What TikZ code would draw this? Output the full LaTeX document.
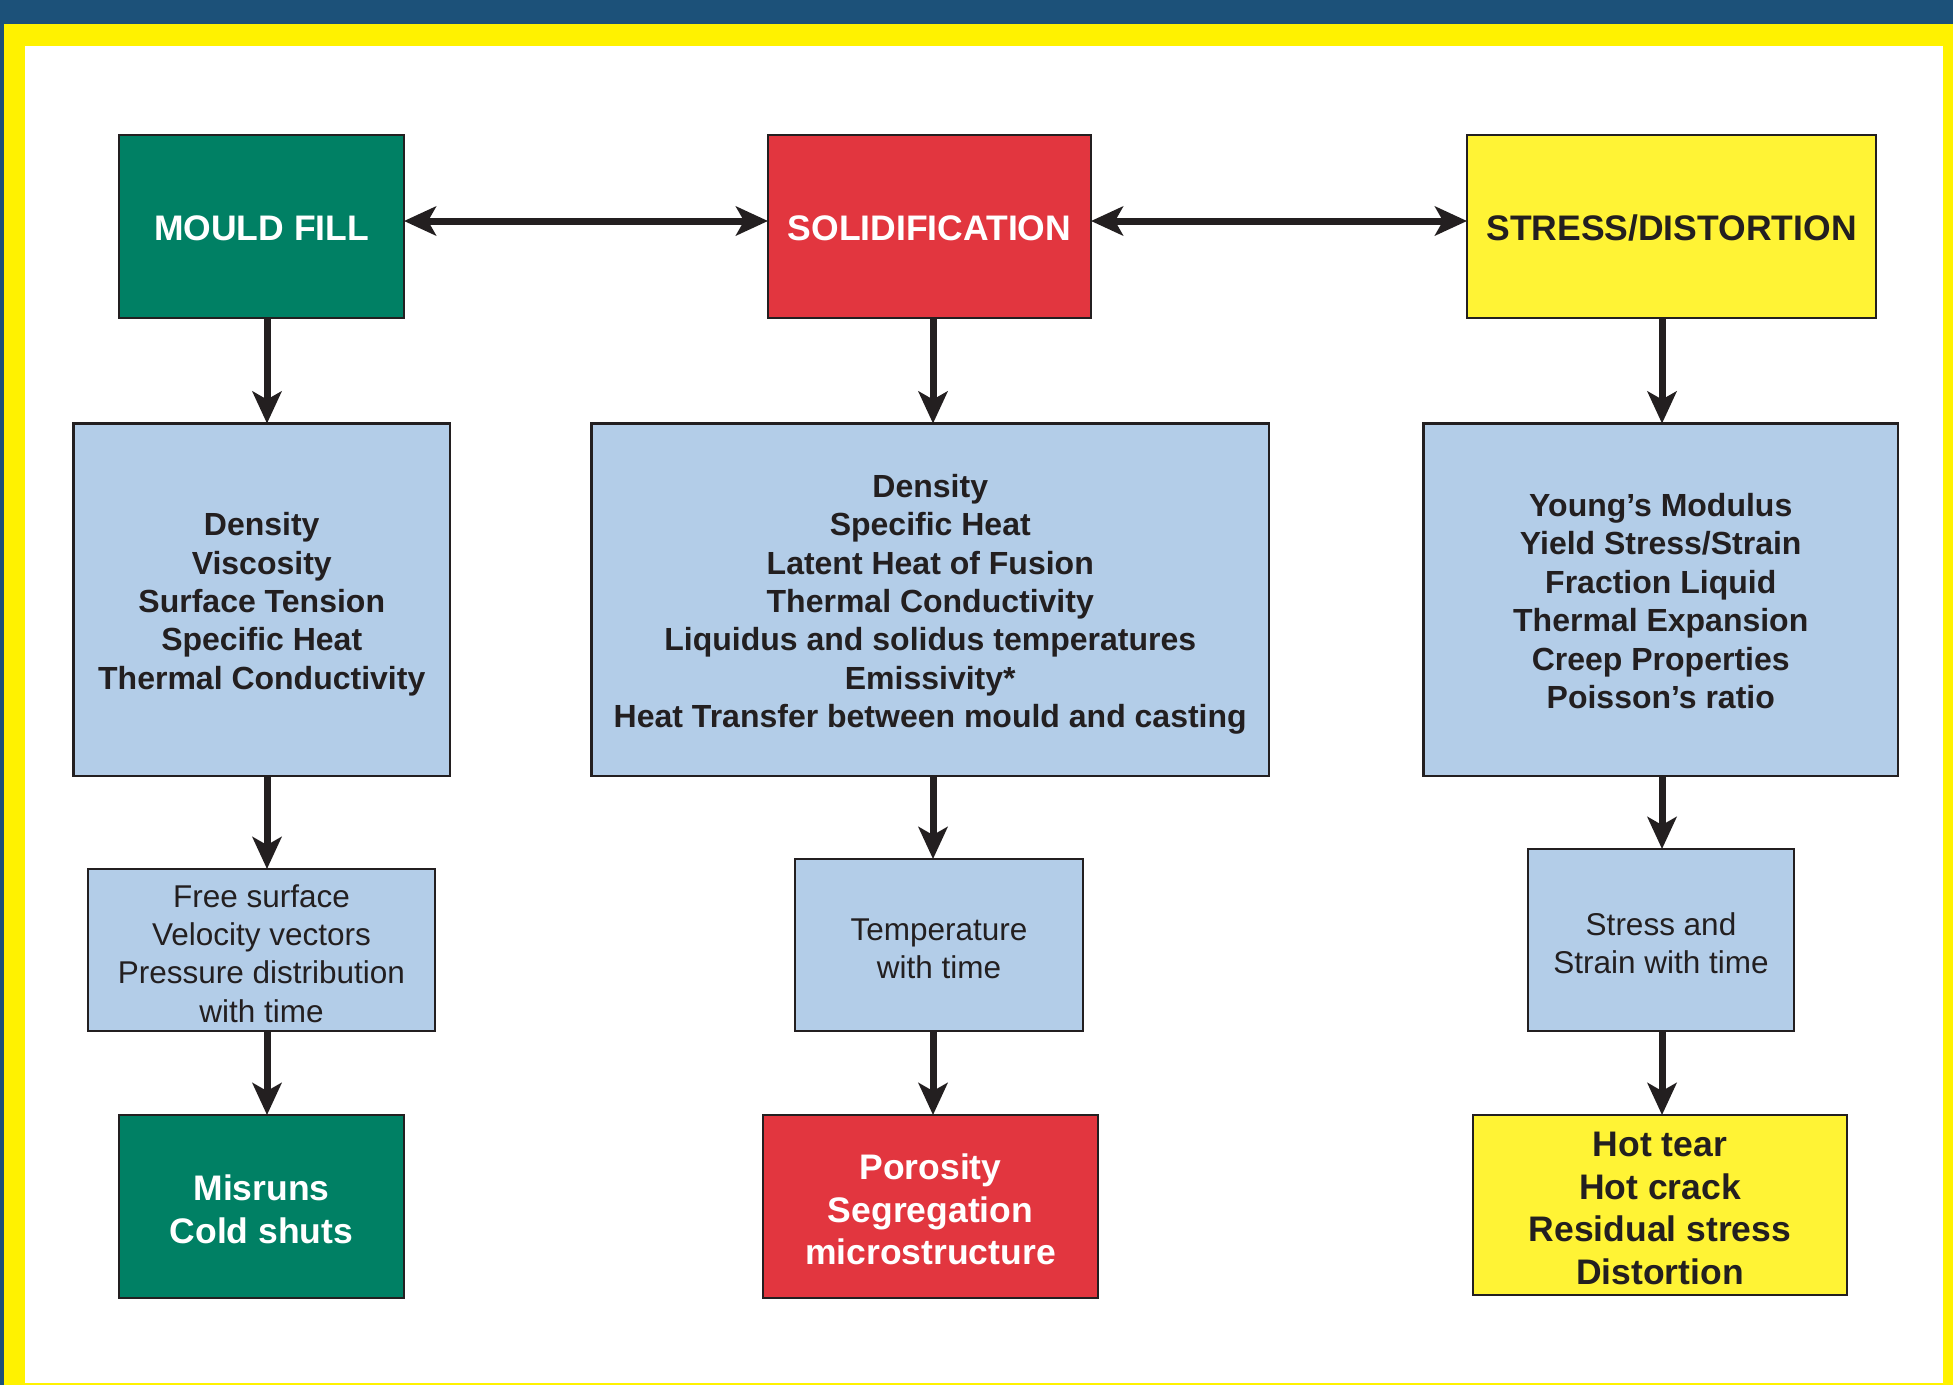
\documentclass[tikz,border=0pt]{standalone}
\usepackage{fontspec}
\setmainfont{Liberation Sans}
\usetikzlibrary{arrows.meta}
\definecolor{band}{HTML}{1C5179}
\definecolor{frameyellow}{HTML}{FFF200}
\definecolor{boxgreen}{HTML}{008064}
\definecolor{boxred}{HTML}{E2363F}
\definecolor{boxyellow}{HTML}{FFF335}
\definecolor{boxblue}{HTML}{B3CDE8}
\definecolor{txt}{HTML}{231F20}
\newcommand{\boxtext}[2][-5pt]{\raisebox{#1}[\height][\depth]{\begin{tabular}{@{}c@{}}#2\end{tabular}}}
\tikzset{
  box/.style={draw=txt, line width=2.5pt, inner sep=0pt, outer sep=0pt, align=center, text=txt},
  headfont/.style={font=\fontsize{35.5}{42.7}\selectfont\bfseries},
  propfont/.style={font=\fontsize{32}{38.4}\selectfont\bfseries},
  outfont/.style={font=\fontsize{31.5}{38.3}\selectfont},
  arr/.style={line width=7pt, draw=txt, -{Stealth[length=32pt,width=29pt,inset=8pt]}},
  darr/.style={line width=7pt, draw=txt, {Stealth[length=32pt,width=29pt,inset=8pt]}-{Stealth[length=32pt,width=29pt,inset=8pt]}}
}
\begin{document}
\begin{tikzpicture}[x=1pt,y=-1pt]
\useasboundingbox (0,0) rectangle (1953,1385);
\fill[band] (0,0) rectangle (1953,1385);
\fill[frameyellow] (4,24) rectangle (1953,1385);
\fill[white] (25,45.7) rectangle (1943,1383);

\coordinate (cL) at (267,0);
\coordinate (cM) at (933,0);
\coordinate (cR) at (1662,0);

% row 1
\node[box, headfont, fill=boxgreen, text=white, minimum width=285pt, minimum height=183pt] (mf) at (261.5,226.5) {\boxtext{MOULD FILL}};
\node[box, headfont, fill=boxred, text=white, minimum width=323pt, minimum height=183pt] (so) at (929.5,226.5) {\boxtext{SOLIDIFICATION}};
\node[box, headfont, fill=boxyellow, minimum width=409pt, minimum height=183pt] (sd) at (1671.5,226.5) {\boxtext{STRESS/DISTORTION}};

% row 2
\node[box, propfont, fill=boxblue, minimum width=376.5pt, minimum height=352.5pt] (p1) at (261.75,599.75)
  {\boxtext{Density\\Viscosity\\Surface Tension\\Specific Heat\\Thermal Conductivity}};
\node[box, propfont, fill=boxblue, minimum width=677.5pt, minimum height=352.5pt] (p2) at (930.25,599.75)
  {\boxtext{Density\\Specific Heat\\Latent Heat of Fusion\\Thermal Conductivity\\Liquidus and solidus temperatures\\Emissivity*\\Heat Transfer between mould and casting}};
\node[box, propfont, fill=boxblue, minimum width=474.5pt, minimum height=352.5pt] (p3) at (1660.75,599.75)
  {\boxtext{Young’s Modulus\\Yield Stress/Strain\\Fraction Liquid\\Thermal Expansion\\Creep Properties\\Poisson’s ratio}};

% row 3
\node[box, outfont, fill=boxblue, minimum width=347pt, minimum height=162pt] (o1) at (261.5,950)
  {\boxtext[-7pt]{Free surface\\Velocity vectors\\Pressure distribution\\with time}};
\node[box, outfont, fill=boxblue, minimum width=288pt, minimum height=172pt] (o2) at (939,945)
  {\boxtext[-7pt]{Temperature\\with time}};
\node[box, outfont, fill=boxblue, minimum width=266pt, minimum height=182pt] (o3) at (1661,940)
  {\boxtext[-7pt]{Stress and\\Strain with time}};

% row 4
\node[box, headfont, fill=boxgreen, text=white, minimum width=285pt, minimum height=183pt] (d1) at (261.5,1206.5)
  {\boxtext[-7pt]{Misruns\\Cold shuts}};
\node[box, headfont, fill=boxred, text=white, minimum width=335pt, minimum height=183pt] (d2) at (930.5,1206.5)
  {\boxtext[-7pt]{Porosity\\Segregation\\microstructure}};
\node[box, headfont, fill=boxyellow, minimum width=374pt, minimum height=180pt] (d3) at (1660,1205)
  {\boxtext[-7pt]{Hot tear\\Hot crack\\Residual stress\\Distortion}};

% horizontal arrows
\draw[darr] ([yshift=5.5pt]mf.east) -- ([yshift=5.5pt]so.west);
\draw[darr] ([yshift=5.5pt]so.east) -- ([yshift=5.5pt]sd.west);

% vertical arrows
\draw[arr] (mf.south -| cL) -- (p1.north -| cL);
\draw[arr] (p1.south -| cL) -- (o1.north -| cL);
\draw[arr] (o1.south -| cL) -- (d1.north -| cL);
\draw[arr] (so.south -| cM) -- (p2.north -| cM);
\draw[arr] (p2.south -| cM) -- (o2.north -| cM);
\draw[arr] (o2.south -| cM) -- (d2.north -| cM);
\draw[arr] (sd.south -| cR) -- (p3.north -| cR);
\draw[arr] (p3.south -| cR) -- (o3.north -| cR);
\draw[arr] (o3.south -| cR) -- (d3.north -| cR);
\end{tikzpicture}
\end{document}
